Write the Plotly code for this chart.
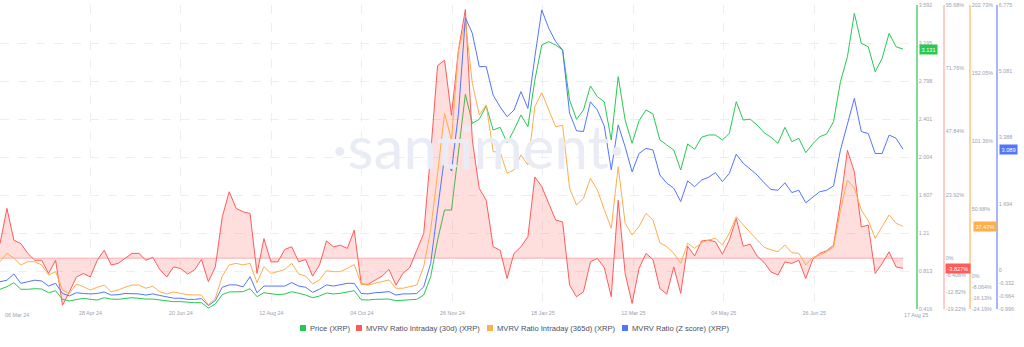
import pandas as pd
import plotly.graph_objects as go

# ---------------- data ----------------
start_date = "2024-03-06"
end_date = "2025-08-17"

price = [0.622, 0.649, 0.691, 0.622, 0.622, 0.628, 0.625, 0.586, 0.607, 0.517, 0.500, 0.517, 0.528, 0.517, 0.510, 0.534, 0.520, 0.517, 0.524, 0.534, 0.528, 0.520, 0.520,
         0.510, 0.500, 0.493, 0.493, 0.486, 0.482, 0.482, 0.426, 0.468, 0.566, 0.594, 0.597, 0.597, 0.628, 0.545, 0.586, 0.573, 0.566, 0.573, 0.597, 0.580,
         0.562, 0.534, 0.552, 0.583, 0.573, 0.580, 0.594, 0.607, 0.513, 0.510, 0.517, 0.520, 0.520, 0.503, 0.510, 0.510, 0.517, 0.562, 0.753, 1.137, 1.450, 1.450,
         2.077, 2.660, 2.356, 2.398, 2.537, 2.286, 2.314, 2.153, 2.286, 2.443, 2.320, 2.808, 3.174, 3.209, 3.174, 3.122, 2.599, 2.398, 2.495, 2.746, 2.634, 2.580,
         2.182, 2.843, 2.390, 2.147, 2.383, 2.495, 2.453, 2.182, 2.129, 2.077, 1.868, 2.140, 2.084, 2.210, 2.234, 2.234, 2.182, 2.251, 2.582, 2.390, 2.400,
         2.338, 2.258, 2.210, 2.147, 2.314, 2.164, 2.199, 2.049, 2.140, 2.216, 2.244, 2.373, 2.791, 3.052, 3.505, 3.192, 3.156, 2.895, 3.035, 3.296, 3.156, 3.131]

mvrv_30d = [5.5, 18.8, 6.8, 5.5, 1.8, -0.8, -0.8, -5.8, -0.8, -17.8, -12.7, -7.1, -5.8, -7.1, -0.8, 3.0, -2.6, -2.0, -0.1, 1.8, 1.8, -0.8, 0.3,
            -4.3, -7.1, -3.3, -3.9, -6.0, -4.5, -0.5, -8.9, -3.3, 15.6, 25.1, 18.8, 17.5, 16.9, -5.8, 7.4, -1.4, -1.4, 3.3, 4.3, -1.4,
            -0.5, -6.8, -2.6, 6.5, 4.3, 4.9, 3.7, 10.6, -9.8, -9.9, -8.3, -6.8, -4.3, -10.2, -5.8, -3.5, 3.0, 9.3, 39.6, 72.8, 74.8, 54.0,
            78.6, 94.0, 44.6, 26.3, 21.9, 4.3, 3.0, -7.7, 1.8, 4.3, 8.1, 30.7, 27.0, 20.7, 14.4, 13.7, -10.2, -14.6, -12.7, -1.4, -0.1, -3.6,
            -14.6, 21.9, -5.8, -17.1, -3.9, 1.8, -0.5, -11.5, -13.6, -3.3, -13.3, 4.5, 0.8, 6.5, 6.8, 6.2, 1.5, 6.8, 15.0, 4.5, 5.3,
            0.8, -1.6, -5.2, -6.4, -1.4, -2.0, -0.8, -7.7, -0.5, 1.8, 2.8, 4.9, 21.3, 40.8, 32.6, 11.8, 12.5, -5.8, -2.0, 2.4, -3.3, -3.827]

mvrv_365d = [11.1, 17.4, 13.7, 8.7, 11.1, 11.1, 8.7, 1.2, 3.7, -10.0, -12.5, -5.5, -7.5, -10.0, -8.0, -6.3, -11.3, -10.0, -8.0, -6.3, -6.3, -8.7, -7.2,
             -11.3, -13.0, -11.5, -12.5, -13.5, -13.7, -13.7, -21.2, -16.2, 0.4, 8.7, 9.9, 8.7, 9.9, -4.5, 7.4, 2.4, 3.7, 5.4, 9.9, 1.9,
             0.4, -5.5, -2.5, 4.4, 3.7, 3.7, 6.2, 9.0, -5.5, -6.3, -5.0, -3.8, -2.5, -8.7, -8.7, -7.5, -6.3, 7.4, 34.8, 77.1, 121.9, 102.0,
             169.0, 190.0, 144.3, 120.6, 128.1, 93.2, 93.2, 77.1, 79.6, 90.8, 83.3, 126.8, 137.3, 124.4, 111.9, 112.9, 65.9, 53.4, 58.4, 73.4, 64.6, 50.0,
             36.1, 82.0, 39.8, 31.1, 37.3, 47.2, 42.2, 25.3, 22.3, 17.4, 9.9, 24.9, 21.1, 25.3, 27.3, 28.6, 23.6, 32.3, 44.7, 38.5, 32.8,
             27.3, 21.9, 19.9, 18.6, 23.6, 17.8, 17.4, 8.7, 14.4, 16.1, 18.6, 21.9, 49.7, 72.0, 66.0, 49.7, 41.7, 28.6, 37.3, 46.0, 39.8, 37.47]

mvrv_z = [-0.30, -0.26, -0.10, -0.34, -0.30, -0.26, -0.28, -0.41, -0.34, -0.60, -0.66, -0.58, -0.60, -0.61, -0.60, -0.56, -0.64, -0.63, -0.60, -0.60, -0.61, -0.64, -0.61,
          -0.65, -0.69, -0.72, -0.72, -0.75, -0.75, -0.73, -0.91, -0.78, -0.44, -0.38, -0.38, -0.43, -0.17, -0.58, -0.41, -0.41, -0.41, -0.41, -0.32, -0.41,
          -0.44, -0.57, -0.49, -0.38, -0.41, -0.38, -0.34, -0.34, -0.60, -0.61, -0.58, -0.57, -0.55, -0.64, -0.61, -0.61, -0.60, -0.43, 0.17, 1.55, 2.90, 2.53,
          4.00, 6.45, 6.05, 5.20, 5.20, 4.47, 4.17, 3.92, 4.09, 4.56, 4.13, 5.45, 6.65, 6.18, 5.84, 5.62, 4.01, 3.56, 3.54, 4.30, 4.09, 3.68,
          2.56, 3.71, 3.15, 2.51, 2.98, 3.11, 3.07, 2.43, 2.22, 2.09, 1.75, 2.28, 2.13, 2.30, 2.37, 2.49, 2.26, 2.47, 2.96, 2.73, 2.58,
          2.43, 2.23, 2.06, 2.04, 2.23, 1.98, 2.04, 1.72, 1.87, 2.00, 2.04, 2.15, 3.07, 3.75, 4.39, 3.54, 3.49, 2.98, 2.98, 3.45, 3.37, 3.089]

price_ticks = [0.416, 0.813, 1.21, 1.607, 2.004, 2.401, 2.798, 3.195, 3.592]
price_ticktext = ["0.416", "0.813", "1.21", "1.607", "2.004", "2.401", "2.798", "3.195", "3.592"]
r30_ticks = [-19.22, -12.82, -6.408, 0, 23.92, 47.84, 71.76, 95.68]
r30_ticktext = ["-19.22%", "-12.82%", "-6.408%", "0%", "23.92%", "47.84%", "71.76%", "95.68%"]
r365_ticks = [-24.19, -16.13, -8.064, 0, 50.68, 101.36, 152.05, 202.73]
r365_ticktext = ["-24.19%", "-16.13%", "-8.064%", "0%", "50.68%", "101.36%", "152.05%", "202.73%"]
z_ticks = [-0.996, -0.664, -0.332, 0, 1.694, 3.388, 5.081, 6.775]
z_ticktext = ["-0.996", "-0.664", "-0.332", "0", "1.694", "3.388", "5.081", "6.775"]

series_names = ["Price (XRP)", "MVRV Ratio Intraday (30d) (XRP)",
                "MVRV Ratio Intraday (365d) (XRP)", "MVRV Ratio (Z score) (XRP)"]

# ---------------- style ----------------
GREEN, RED, ORANGE, BLUE = "#26C953", "#FF5B5B", "#FFAD4D", "#5275FF"
TICK_C = "#9aa1b3"
GRID_C = "#eceef3"
W = 1024.0
H_TOP, H_BOT = 5, 309
PH = H_BOT - H_TOP


def px(x):
    return x / W


def py(y):
    return (H_BOT - y) / PH


dates = pd.date_range(start_date, end_date, periods=len(price))
x_end = pd.Timestamp(end_date) + pd.Timedelta(hours=197)
tick_dates = pd.date_range(start_date, periods=10, freq="53D")
tick_text = [d.strftime("%d %b %y") for d in tick_dates]
tick_text[0] = ""

fig = go.Figure()
fig.add_trace(go.Scatter(x=dates, y=mvrv_30d, yaxis="y2", mode="lines", name=series_names[1],
                         line=dict(color=RED, width=1), fill="tozeroy",
                         fillcolor="rgba(255,91,91,0.20)", showlegend=False))
fig.add_trace(go.Scatter(x=dates, y=price, yaxis="y", mode="lines", name=series_names[0],
                         line=dict(color=GREEN, width=1), showlegend=False))
fig.add_trace(go.Scatter(x=dates, y=mvrv_365d, yaxis="y3", mode="lines", name=series_names[2],
                         line=dict(color=ORANGE, width=1), showlegend=False))
fig.add_trace(go.Scatter(x=dates, y=mvrv_z, yaxis="y4", mode="lines", name=series_names[3],
                         line=dict(color=BLUE, width=1), showlegend=False))

tickfont = dict(size=5.4, color=TICK_C, family="Liberation Sans")

fig.update_layout(
    width=1024, height=347,
    margin=dict(l=0, r=0, t=H_TOP, b=347 - H_BOT),
    paper_bgcolor="white", plot_bgcolor="white",
    showlegend=False,
    xaxis=dict(domain=[0, px(917)], type="date", range=[pd.Timestamp(start_date), x_end],
               tickvals=list(tick_dates), ticktext=tick_text, tickfont=tickfont,
               showgrid=True, gridcolor=GRID_C, griddash="dash", gridwidth=1,
               zeroline=False, showline=False, ticks=""),
    yaxis=dict(anchor="free", position=px(917), side="right", range=[0.416, 3.592],
               tickvals=price_ticks, ticktext=price_ticktext, tickfont=tickfont,
               showgrid=True, gridcolor=GRID_C, griddash="dash", zeroline=False,
               showline=True, linecolor="#7fdc92", linewidth=1.5, ticks=""),
    yaxis2=dict(anchor="free", overlaying="y", position=px(944), side="right", range=[-19.22, 95.68],
                tickvals=r30_ticks, ticktext=r30_ticktext, tickfont=tickfont,
                showgrid=False, zeroline=False, showline=True, linecolor="#ffcccc", linewidth=1.5, ticks=""),
    yaxis3=dict(anchor="free", overlaying="y", position=px(970), side="right", range=[-24.19, 202.73],
                tickvals=r365_ticks, ticktext=r365_ticktext, tickfont=tickfont,
                showgrid=False, zeroline=False, showline=True, linecolor="#ffd39c", linewidth=1.5, ticks=""),
    yaxis4=dict(anchor="free", overlaying="y", position=px(997), side="right", range=[-0.996, 6.775],
                tickvals=z_ticks, ticktext=z_ticktext, tickfont=tickfont,
                showgrid=False, zeroline=False, showline=True, linecolor="#a6b6ff", linewidth=1.5, ticks=""),
)

# zero line of the 30d MVRV area
fig.add_shape(type="line", xref="x", yref="y2", x0=dates[0], x1=dates[-1], y0=0, y1=0,
              line=dict(color="rgba(255,91,91,0.45)", width=1), layer="below")

annotations = []
# watermark
annotations.append(dict(text="·santiment·", xref="paper", yref="paper", x=px(478), y=py(146),
                        xanchor="center", yanchor="middle", showarrow=False,
                        font=dict(size=60, color="#e9ecf4", family="Lato")))
# first / last date labels
annotations.append(dict(text="06 Mar 24", xref="paper", yref="paper", x=px(3), y=py(315),
                        xanchor="left", yanchor="middle", showarrow=False, font=tickfont))
annotations.append(dict(text="17 Aug 25", xref="paper", yref="paper", x=px(902), y=py(315),
                        xanchor="left", yanchor="middle", showarrow=False, font=tickfont))

# current value badges
badges = [(price[-1], "y", GREEN, 919, "{:.3f}".format(price[-1])),
          (mvrv_30d[-1], "y2", RED, 945, "{:.3f}%".format(mvrv_30d[-1])),
          (mvrv_365d[-1], "y3", ORANGE, 973, "{:.2f}%".format(mvrv_365d[-1])),
          (mvrv_z[-1], "y4", BLUE, 999, "{:.3f}".format(mvrv_z[-1]))]
for val, yref, col, xl, txt in badges:
    annotations.append(dict(text=txt, xref="paper", yref=yref, x=px(xl), y=val,
                            xanchor="left", yanchor="middle", showarrow=False,
                            bgcolor=col, borderpad=1.5,
                            font=dict(size=5.6, color="white", family="Liberation Sans")))

# legend (drawn manually to match the compact swatch/text spacing)
legend_items = [(series_names[0], GREEN, 300), (series_names[1], RED, 356),
                (series_names[2], ORANGE, 487), (series_names[3], BLUE, 622)]
for name, col, xl in legend_items:
    fig.add_shape(type="rect", xref="paper", yref="paper", x0=px(xl), x1=px(xl + 6),
                  y0=py(331), y1=py(325), fillcolor=col, line=dict(width=0))
    annotations.append(dict(text=name, xref="paper", yref="paper", x=px(xl + 8), y=py(328),
                            xanchor="left", yanchor="middle", showarrow=False,
                            font=dict(size=7.6, color="#4a4f63", family="Liberation Sans")))

fig.update_layout(annotations=annotations)
fig.write_html("out.html")
